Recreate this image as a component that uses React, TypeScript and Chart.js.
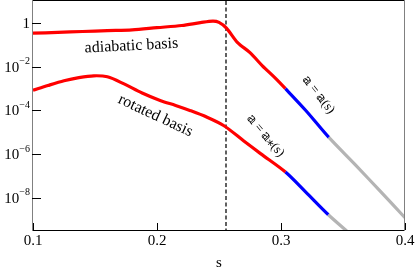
import React, { useEffect, useRef } from 'react';
import { Chart, registerables } from 'chart.js';

Chart.register(...registerables);

// ---- data ----
const adiabaticS = [0.1, 0.12, 0.14, 0.16, 0.18, 0.2, 0.22, 0.235, 0.245, 0.25, 0.256, 0.265, 0.275, 0.285, 0.295, 0.3036, 0.32, 0.3386, 0.36, 0.38, 0.4];
const adiabaticValues = [0.35, 0.38, 0.42, 0.46, 0.5, 0.63, 0.79, 1.07, 1.26, 1.1, 0.6, 0.13, 0.045, 0.0112, 0.0032, 0.001, 1.0e-4, 5.8e-6, 3.2e-7, 2.0e-8, 1.2e-9];
const adiabaticBreaks = [0.3036, 0.3386];

const rotatedS = [0.1, 0.112, 0.125, 0.137, 0.149, 0.16, 0.173, 0.188, 0.203, 0.215, 0.227, 0.24, 0.254, 0.27, 0.2835, 0.3036, 0.32, 0.3382, 0.3523, 0.365];
const rotatedValues = [8.5e-4, 1.4e-3, 2.3e-3, 3.2e-3, 3.9e-3, 3.5e-3, 1.7e-3, 6.3e-4, 2.8e-4, 1.7e-4, 9.8e-5, 5.0e-5, 2.0e-5, 4.0e-6, 1.05e-6, 1.5e-7, 1.8e-8, 1.65e-9, 3.2e-10, 7e-11];
const rotatedBreaks = [0.3036, 0.3382];

const xTickValues = [0.1, 0.2, 0.3, 0.4];
const xTickLabels = ['0.1', '0.2', '0.3', '0.4'];
const yTickValues = [1, 1e-2, 1e-4, 1e-6, 1e-8];
const yTickBases = ['1', '10', '10', '10', '10'];
const yTickExps = ['', '\u22122', '\u22124', '\u22126', '\u22128'];
const dashedLineS = 0.2556;

const segmentColors = ['#ff0000', '#0000ff', '#b4b4b4'];

const annotations = [
  { text: 'adiabatic basis', s: 0.1794, v: 9.1e-2, angle: -3, size: 16 },
  { text: 'rotated basis', s: 0.1988, v: 5.7e-5, angle: 25, size: 16 },
  { text: '\u{1D552} = \u{1D552}(s)', s: 0.3302, v: 5.2e-4, angle: 52, size: 13 },
  { text: '\u{1D552} = \u{1D552}\u204E(s)', s: 0.2875, v: 6.9e-6, angle: 50, size: 13 },
];

const SERIF = '"Liberation Serif", "DejaVu Serif", serif';

function segColor(breaks: number[]) {
  return (ctx: any) => {
    const x = ctx.p0.parsed.x;
    if (x < breaks[0] - 1e-9) return segmentColors[0];
    if (x < breaks[1] - 1e-9) return segmentColors[1];
    return segmentColors[2];
  };
}

const decorPlugin = {
  id: 'decor',
  beforeDatasetsDraw(chart: any) {
    const { ctx, chartArea, scales } = chart;
    const x = scales.x.getPixelForValue(dashedLineS);
    ctx.save();
    ctx.strokeStyle = '#606060';
    ctx.lineWidth = 2;
    ctx.setLineDash([4, 2.5]);
    ctx.beginPath();
    ctx.moveTo(Math.round(x), chartArea.top);
    ctx.lineTo(Math.round(x), chartArea.bottom);
    ctx.stroke();
    ctx.restore();
  },
  afterDatasetsDraw(chart: any) {
    const { ctx, chartArea, scales } = chart;
    const { left, right, top, bottom } = chartArea;
    ctx.save();
    // frame
    ctx.lineWidth = 1;
    ctx.strokeStyle = '#000';
    ctx.beginPath();
    ctx.moveTo(left, top - 0.5);
    ctx.lineTo(right, top - 0.5);
    ctx.moveTo(left, bottom + 0.5);
    ctx.lineTo(right, bottom + 0.5);
    ctx.stroke();
    ctx.strokeStyle = '#808080';
    ctx.beginPath();
    ctx.moveTo(left - 0.5, top - 1);
    ctx.lineTo(left - 0.5, bottom + 1);
    ctx.moveTo(right - 0.5, top - 1);
    ctx.lineTo(right - 0.5, bottom + 1);
    ctx.stroke();
    // y ticks
    ctx.strokeStyle = '#000';
    ctx.beginPath();
    yTickValues.forEach((v) => {
      const y = Math.round(scales.y.getPixelForValue(v)) + 0.5;
      ctx.moveTo(left - 1, y);
      ctx.lineTo(left + 8, y);
    });
    // x ticks
    xTickValues.forEach((v) => {
      const x = Math.round(scales.x.getPixelForValue(v)) + 0.5;
      ctx.moveTo(x, bottom);
      ctx.lineTo(x, bottom - 7);
    });
    ctx.stroke();
    // y labels
    ctx.fillStyle = '#000';
    ctx.textBaseline = 'middle';
    yTickValues.forEach((v, i) => {
      const y = scales.y.getPixelForValue(v);
      const rightX = left - 3;
      ctx.font = '10px ' + SERIF;
      const ew = yTickExps[i] ? ctx.measureText(yTickExps[i]).width : 0;
      if (yTickExps[i]) {
        ctx.textAlign = 'right';
        ctx.fillText(yTickExps[i], rightX, y - 5);
      }
      ctx.font = '15px ' + SERIF;
      ctx.textAlign = 'right';
      ctx.fillText(yTickBases[i], rightX - ew, y + 1);
    });
    // x labels
    ctx.font = '15px ' + SERIF;
    ctx.textAlign = 'center';
    xTickValues.forEach((v, i) => {
      const x = scales.x.getPixelForValue(v);
      ctx.fillText(xTickLabels[i], x, bottom + 11);
    });
    // axis title
    ctx.fillText('s', (left + right) / 2, bottom + 33);
    // annotations
    annotations.forEach((a) => {
      const x = scales.x.getPixelForValue(a.s);
      const y = scales.y.getPixelForValue(a.v);
      ctx.save();
      ctx.translate(x, y);
      ctx.rotate((a.angle * Math.PI) / 180);
      ctx.font = a.size + 'px ' + SERIF;
      ctx.textAlign = 'center';
      ctx.textBaseline = 'middle';
      ctx.fillText(a.text, 0, 0);
      ctx.restore();
    });
    ctx.restore();
  },
};

export default function App() {
  const ref = useRef<HTMLCanvasElement | null>(null);
  useEffect(() => {
    if (!ref.current) return;
    const chart = new Chart(ref.current, {
      type: 'line',
      data: {
        datasets: [
          {
            label: 'adiabatic basis',
            data: adiabaticS.map((s, i) => ({ x: s, y: adiabaticValues[i] })),
            borderColor: segmentColors[0],
            borderWidth: 3.2,
            pointRadius: 0,
            tension: 0.3,
            fill: false,
            segment: { borderColor: segColor(adiabaticBreaks) },
          },
          {
            label: 'rotated basis',
            data: rotatedS.map((s, i) => ({ x: s, y: rotatedValues[i] })),
            borderColor: segmentColors[0],
            borderWidth: 3.2,
            pointRadius: 0,
            tension: 0.3,
            fill: false,
            segment: { borderColor: segColor(rotatedBreaks) },
          },
        ],
      },
      options: {
        animation: false,
        responsive: false,
        events: [],
        layout: { padding: { top: 1, right: 10, left: 0, bottom: 0 } },
        plugins: { legend: { display: false }, tooltip: { enabled: false } },
        scales: {
          x: {
            type: 'linear',
            min: 0.1,
            max: 0.4,
            ticks: { display: false },
            grid: { display: false },
            border: { display: false },
            afterFit: (scale: any) => { scale.height = 42; },
          },
          y: {
            type: 'logarithmic',
            min: 3.3e-10,
            max: 10.5,
            ticks: { display: false },
            grid: { display: false },
            border: { display: false },
            afterFit: (scale: any) => { scale.width = 33; },
          },
        },
      },
      plugins: [decorPlugin],
    });
    return () => chart.destroy();
  }, []);
  return (
    <div style={{ position: 'fixed', left: 0, top: 0, width: 415, height: 272, background: '#fff' }}>
      <canvas ref={ref} width={415} height={272} style={{ display: 'block' }} />
    </div>
  );
}
